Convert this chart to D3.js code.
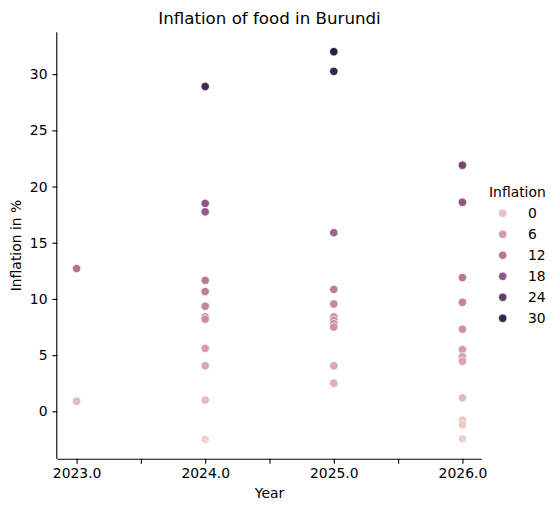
<!DOCTYPE html>
<html>
<head>
<meta charset="utf-8">
<script src="https://cdn.jsdelivr.net/npm/d3@7"></script>
<style>
  html, body { margin: 0; padding: 0; background: #fff; }
  text { font-family: "DejaVu Sans", sans-serif; fill: #000; }
</style>
</head>
<body>
<svg id="chart" width="557" height="512"></svg>
<script>
// ---- data ----
const years = [2023, 2024, 2025, 2026];
const inflation2023 = [12.7, 0.9];
const inflation2024 = [28.9, 18.5, 17.75, 11.65, 10.65, 9.35, 8.4, 8.2, 5.6, 4.05, 1.0, -2.5];
const inflation2025 = [32.0, 30.25, 15.9, 10.85, 9.55, 8.4, 8.1, 7.8, 7.5, 4.05, 2.5];
const inflation2026 = [21.9, 18.6, 11.9, 9.7, 7.3, 5.5, 4.85, 4.45, 1.2, -0.8, -1.2, -2.45];
const legendTicks = [0, 6, 12, 18, 24, 30];
const xTickValues = [2023, 2023.5, 2024, 2024.5, 2025, 2025.5, 2026];
const yTickValues = [0, 5, 10, 15, 20, 25, 30];

const seriesByYear = [inflation2023, inflation2024, inflation2025, inflation2026];
const points = [];
years.forEach((yr, i) => seriesByYear[i].forEach(v => points.push({year: yr, value: v})));

// ---- seaborn default cubehelix colormap ----
function cubehelix(t) {
  const gamma = 1, hue = 0.8, start = 0, rot = 0.4;
  const xg = Math.pow(t, gamma);
  const a = hue * xg * (1 - xg) / 2;
  const phi = 2 * Math.PI * (start / 3 + rot * t);
  const c = Math.cos(phi), s = Math.sin(phi);
  const clip = v => Math.max(0, Math.min(1, v));
  const r = clip(xg + a * (-0.14861 * c + 1.78277 * s));
  const g = clip(xg + a * (-0.29227 * c - 0.90649 * s));
  const b = clip(xg + a * (1.97294 * c));
  return d3.rgb(r * 255, g * 255, b * 255).formatHex();
}
const vmin = d3.min(points, d => d.value), vmax = d3.max(points, d => d.value);
const lightV = 0.85, darkV = 0.15;
function colorFor(v) {
  const t = (v - vmin) / (vmax - vmin);
  const i = Math.max(0, Math.min(255, Math.floor(t * 256)));
  const xx = lightV + (darkV - lightV) * i / 255;
  const j = Math.max(0, Math.min(255, Math.floor(xx * 256)));
  return cubehelix(j / 255);
}

// ---- layout ----
const svg = d3.select("#chart");
const pLeft = 57.3, pRight = 481.7, pTop = 32.3, pBottom = 458.8;

const xPad = (d3.max(years) - d3.min(years)) * 0.05;
const xScale = d3.scaleLinear()
  .domain([d3.min(years) - xPad, d3.max(years) + xPad])
  .range([pLeft, pRight]);
const yPad = (vmax - vmin) * 0.05;
const yScale = d3.scaleLinear()
  .domain([vmin - yPad, vmax + yPad])
  .range([pBottom, pTop]);

const fs = 13.9;

// axes
const xAxis = d3.axisBottom(xScale)
  .tickValues(xTickValues)
  .tickSize(4.9).tickPadding(4.9)
  .tickFormat(d => Number.isInteger(d) ? d.toFixed(1) : "");
const gx = svg.append("g").attr("transform", `translate(0,${pBottom})`).call(xAxis);
gx.select(".domain").attr("d", `M${pLeft},0.5H${pRight}`).attr("stroke", "#000").attr("stroke-width", 1.1);
gx.selectAll(".tick line").attr("stroke", "#000").attr("stroke-width", 1.1);
gx.selectAll(".tick text").attr("font-size", fs).attr("font-family", "DejaVu Sans").attr("fill", "#000");

const yAxis = d3.axisLeft(yScale)
  .tickValues(yTickValues)
  .tickSize(4.9).tickPadding(4.9)
  .tickFormat(d3.format("d"));
const gy = svg.append("g").attr("transform", `translate(${pLeft},0)`).call(yAxis);
gy.select(".domain").attr("d", `M-0.5,${pTop}V${pBottom}`).attr("stroke", "#000").attr("stroke-width", 1.1);
gy.selectAll(".tick line").attr("stroke", "#000").attr("stroke-width", 1.1);
gy.selectAll(".tick text").attr("font-size", fs).attr("font-family", "DejaVu Sans").attr("fill", "#000");

// points
svg.append("g").selectAll("circle")
  .data(points)
  .enter().append("circle")
  .attr("cx", d => xScale(d.year))
  .attr("cy", d => yScale(d.value))
  .attr("r", 4.2)
  .attr("fill", d => colorFor(d.value))
  .attr("stroke", "#fff")
  .attr("stroke-width", 0.7);

// title and labels
svg.append("text")
  .attr("x", (pLeft + pRight) / 2).attr("y", 24)
  .attr("text-anchor", "middle").attr("font-size", 16.67)
  .text("Inflation of food in Burundi");
svg.append("text")
  .attr("x", (pLeft + pRight) / 2).attr("y", 498)
  .attr("text-anchor", "middle").attr("font-size", fs)
  .text("Year");
svg.append("text")
  .attr("transform", `translate(21,${(pTop + pBottom) / 2}) rotate(-90)`)
  .attr("text-anchor", "middle").attr("font-size", fs)
  .text("Inflation in %");

// legend
const lg = svg.append("g");
lg.append("text").attr("x", 489).attr("y", 196.5).attr("font-size", fs).text("Inflation");
const items = lg.selectAll("g.item").data(legendTicks).enter().append("g")
  .attr("transform", (d, i) => `translate(0,${213.3 + i * 21})`);
items.append("circle").attr("cx", 502.7).attr("cy", 0).attr("r", 4.2)
  .attr("fill", d => colorFor(d)).attr("stroke", "#fff").attr("stroke-width", 0.7);
items.append("text").attr("x", 528).attr("y", 0).attr("dy", "0.35em")
  .attr("font-size", fs).text(d => d);
</script>
</body>
</html>
